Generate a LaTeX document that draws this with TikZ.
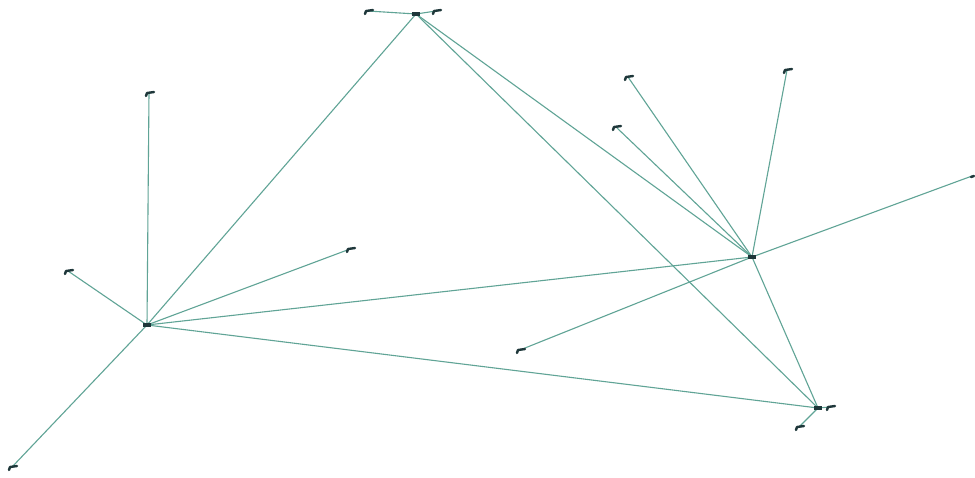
\documentclass[tikz,border=0pt]{standalone}
\usetikzlibrary{calc}
\definecolor{edgecol}{RGB}{96,164,150}
\definecolor{markcol}{RGB}{30,55,58}
\begin{document}
\begin{tikzpicture}[x=1pt,y=-1pt,
  edge/.style={draw=edgecol, line width=1.1pt},
  hook/.style={draw=markcol, line width=2.4pt, line cap=round, line join=round},
  hubmark/.style={fill=markcol, draw=none}]
\useasboundingbox[fill=white] (0,0) rectangle (975,477);
% hubs
\coordinate (A) at (147,325);
\coordinate (B) at (416,14);
\coordinate (C) at (752,257);
\coordinate (D) at (818,408);
% leaves
\coordinate (b1) at (368,11);
\coordinate (b2) at (436,11);
\coordinate (a1) at (149,93);
\coordinate (a2) at (68,271);
\coordinate (a3) at (350,249);
\coordinate (a4) at (12,467);
\coordinate (c1) at (628,77);
\coordinate (c2) at (616,127);
\coordinate (c3) at (787,70);
\coordinate (c4) at (972,176);
\coordinate (c5) at (520,350);
\coordinate (d1) at (830,407);
\coordinate (d2) at (799,427);
% edges
\draw[edge] (A) -- (B);
\draw[edge] (A) -- (C);
\draw[edge] (A) -- (D);
\draw[edge] (B) -- (C);
\draw[edge] (B) -- (D);
\draw[edge] (C) -- (D);
\draw[edge] (B) -- (b1);
\draw[edge] (B) -- (b2);
\foreach \l in {a1,a2,a3,a4} \draw[edge] (A) -- (\l);
\foreach \l in {c1,c2,c3,c4,c5} \draw[edge] (C) -- (\l);
\foreach \l in {d1,d2} \draw[edge] (D) -- (\l);
% markers
\foreach \l in {b1,b2,a1,a2,a3,a4,c1,c2,c3,c5,d1,d2}
  \draw[hook] ($(\l)+(-3,3)$) -- ($(\l)+(-2,0)$) -- ($(\l)+(5,-1)$);
\draw[hook] ($(c4)+(-1,1)$) -- ($(c4)+(2,0)$);
\foreach \h in {A,B,C,D}
  \fill[hubmark] ($(\h)+(-4,-1.8)$) rectangle ($(\h)+(4,1.8)$);
\end{tikzpicture}
\end{document}
